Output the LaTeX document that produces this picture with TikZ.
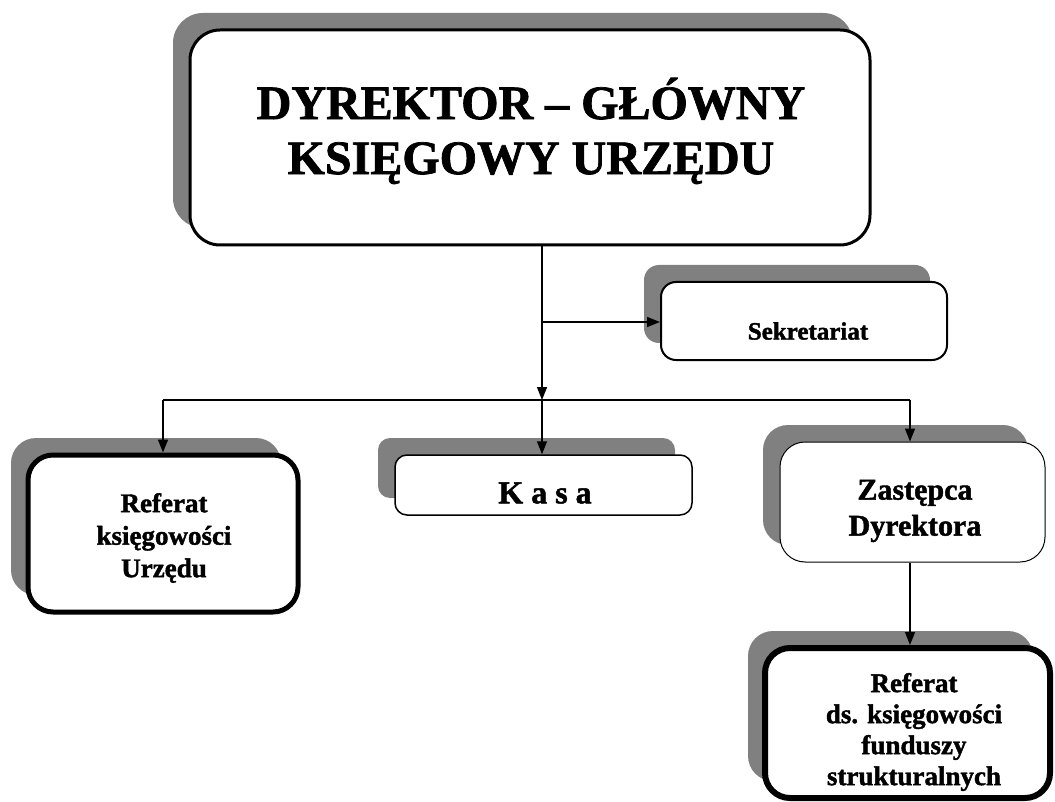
\documentclass[tikz,border=0pt]{standalone}
\usepackage{fontspec}
\setmainfont[BoldFeatures={FakeBold=1.5}]{Liberation Serif}
\usetikzlibrary{arrows.meta,shadows}
\definecolor{shgray}{HTML}{808080}
\begin{document}
\begin{tikzpicture}[x=1pt,y=-1pt,line width=1.5pt,
  >={Triangle[length=13pt,width=10pt]},
  box/.style={draw, fill=white, rounded corners=#1, inner sep=0pt,
    drop shadow={shadow xshift=-17pt, shadow yshift=17pt, fill=shgray, opacity=1}},
  box/.default=15pt,
  conn/.style={draw, line width=1.5pt}]
\useasboundingbox (0,0) rectangle (1055,802);

\node[box=30pt, line width=3pt, minimum width=680pt, minimum height=215pt] (top) at (530,137.5) {};
\node[align=center, inner sep=0pt, font=\bfseries\fontsize{48}{55}\selectfont] (topt) at (531,131)
  {DYREKTOR – GŁÓWNY\\KSIĘGOWY URZĘDU};

\node[box=15pt, line width=2pt, minimum width=286pt, minimum height=78pt] (sek) at (804,321) {};
\node[align=center, inner sep=0pt, font=\bfseries\fontsize{25}{28}\selectfont] (sekt) at (808,331) {Sekretariat};

\node[box=25pt, line width=5pt, minimum width=270pt, minimum height=157pt] (ref) at (163,533.5) {};
\node[align=center, inner sep=0pt, font=\bfseries\fontsize{27}{32.5}\selectfont] (reft) at (164,538)
  {Referat\\księgowości\\Urzędu};

\node[box=12pt, line width=1.5pt, minimum width=297pt, minimum height=60pt] (kasa) at (543.5,485) {};
\node[inner sep=0pt, font=\bfseries\fontsize{32}{36}\selectfont] (kasat) at (545,493) {K a s a};

\node[box=25pt, line width=1pt, minimum width=265pt, minimum height=120pt] (zas) at (912.5,502) {};
\node[align=center, inner sep=0pt, font=\bfseries\fontsize{30}{36}\selectfont] (zast) at (915,511)
  {Zastępca\\Dyrektora};

\node[box=25pt, line width=6pt, minimum width=285pt, minimum height=150pt] (rds) at (907.5,723) {};
\node[align=center, inner sep=0pt, font=\bfseries\fontsize{27}{31}\selectfont] (rdst) at (914,732)
  {Referat\\ds. księgowości\\funduszy\\strukturalnych};

\coordinate (j1) at (542,322);
\coordinate (j2) at (542,400);
\coordinate (jl) at (163,400);
\coordinate (jr) at (910,400);

\draw[->] (top.south -| j2) -- (j2);
\draw[->] (j1) -- (j1 -| sek.west);
\draw (jl) -- (jr);
\draw[->] (jl) -- (jl |- ref.north);
\draw[->] (j2) -- (j2 |- kasa.north);
\draw[->] (jr) -- (jr |- zas.north);
\draw[->] (zas.south -| jr) -- (jr |- rds.north);
\end{tikzpicture}
\end{document}
